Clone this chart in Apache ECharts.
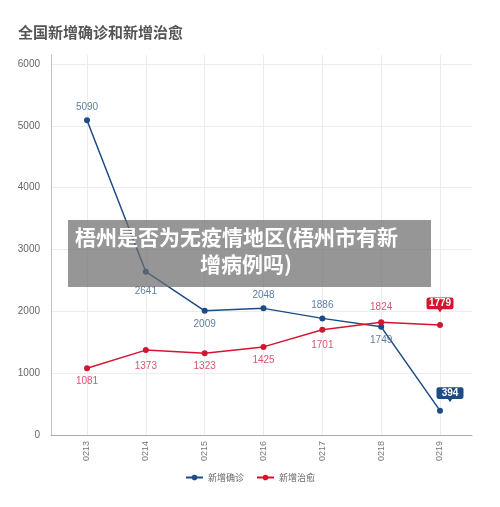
<!DOCTYPE html>
<html>
<head>
<meta charset="utf-8">
<script src="https://cdn.jsdelivr.net/npm/echarts@6/dist/echarts.min.js"></script>
<style>
html,body{margin:0;padding:0;background:#fff;}
#c{width:500px;height:507px;}
</style>
</head>
<body>
<div id="c"></div>
<script>
var categories = ['0213','0214','0215','0216','0217','0218','0219'];
var confirmed = [5090, 2641, 2009, 2048, 1886, 1749, 394];
var cured = [1081, 1373, 1323, 1425, 1701, 1824, 1779];
var seriesNames = ['新增确诊', '新增治愈'];
var confirmedLabelPos = ['top','bottom','bottom','top','top','bottom','top'];
var curedLabelPos = ['bottom','bottom','bottom','bottom','bottom','top','top'];
var titleText = '全国新增确诊和新增治愈';
var overlayLine1 = '梧州是否为无疫情地区(梧州市有新';
var overlayLine2 = '增病例吗)';

var FONT = '"Noto Sans CJK SC","Noto Sans",sans-serif';
var NUMFONT = '"Liberation Sans","Noto Sans CJK SC",sans-serif';
var BLUE = '#1d4b85';
var RED = '#d5152f';
var calloutPath = 'path://M2,0 H24 Q26,0 26,2 V9 Q26,11 24,11 H15 L13,14 L11,11 H2 Q0,11 0,9 V2 Q0,0 2,0 Z';

function buildData(values, posArr, labelColor, extraDist) {
  return values.map(function (v, i) {
    var item = { value: v, label: { position: posArr[i], color: labelColor } };
    if (extraDist && extraDist[i]) item.label.distance = extraDist[i];
    if (i === values.length - 1) item.label.show = false;
    return item;
  });
}

var last = categories.length - 1;

var chart = echarts.init(document.getElementById('c'), null, { renderer: 'canvas' });
chart.setOption({
  backgroundColor: '#fff',
  animation: false,
  textStyle: { fontFamily: FONT },
  title: {
    text: titleText, left: 13, top: 20,
    textStyle: { fontSize: 15, fontWeight: 'bold', color: '#555', fontFamily: FONT }
  },
  legend: {
    data: seriesNames, bottom: 20, left: 'center',
    itemWidth: 17, itemHeight: 7, itemGap: 12,
    textStyle: { fontSize: 9, color: '#666', fontFamily: FONT }
  },
  grid: [
    { left: 51, right: 28, top: 55, bottom: 72 },
    { left: 51, right: 28, top: 64, bottom: 72 },
    { left: 87, right: 60, top: 55, bottom: 72 },
    { left: 87, right: 60, top: 64, bottom: 72 }
  ],
  xAxis: [
    { gridIndex: 0, type: 'value', min: 0, max: 1,
      axisLine: { show: true, lineStyle: { color: '#aaa', width: 1 } },
      axisTick: { show: false }, axisLabel: { show: false }, splitLine: { show: false } },
    { gridIndex: 1, type: 'value', min: 0, max: 1, show: false },
    { gridIndex: 2, type: 'category', data: categories, boundaryGap: false,
      axisLine: { show: false }, axisTick: { show: false },
      axisLabel: { rotate: 90, margin: 6, fontSize: 9, color: '#777', fontFamily: NUMFONT },
      splitLine: { show: true, lineStyle: { color: '#ececec', width: 1 } } },
    { gridIndex: 3, type: 'category', data: categories, boundaryGap: false, show: false }
  ],
  yAxis: [
    { gridIndex: 0, type: 'value', min: 0, max: 1,
      axisLine: { show: true, lineStyle: { color: '#c2c2c2', width: 1 } },
      axisTick: { show: false }, axisLabel: { show: false }, splitLine: { show: false } },
    { gridIndex: 1, type: 'value', min: 0, max: 6000, interval: 1000,
      axisLine: { show: false }, axisTick: { show: false },
      axisLabel: { margin: 11, fontSize: 10, color: '#666', fontFamily: NUMFONT,
        formatter: function (v) { return String(v); } },
      splitLine: { show: true, lineStyle: { color: '#ececec', width: 1 } } },
    { gridIndex: 2, type: 'value', min: 0, max: 1, show: false },
    { gridIndex: 3, type: 'value', min: 0, max: 6000, interval: 1000, show: false }
  ],
  series: [
    {
      name: seriesNames[0], type: 'line', xAxisIndex: 3, yAxisIndex: 3,
      data: buildData(confirmed, confirmedLabelPos, '#5f7fa6', [0, 12, 0, 0, 0, 0, 0]),
      symbol: 'circle', symbolSize: 6,
      itemStyle: { color: BLUE }, lineStyle: { color: BLUE, width: 1.5 },
      label: { show: true, fontSize: 10, fontFamily: NUMFONT },
      markPoint: {
        symbol: calloutPath, symbolSize: [27, 15], symbolKeepAspect: false,
        symbolOffset: [10, -16],
        itemStyle: { color: BLUE },
        label: { show: true, color: '#fff', fontSize: 10, fontWeight: 'bold', fontFamily: NUMFONT, offset: [0, -1.5] },
        data: [{ coord: [last, confirmed[last]], value: confirmed[last] }]
      },
      z: 3
    },
    {
      name: seriesNames[1], type: 'line', xAxisIndex: 3, yAxisIndex: 3,
      data: buildData(cured, curedLabelPos, '#d9566f', [0, 8, 0, 0, 7, 7, 0]),
      symbol: 'circle', symbolSize: 6,
      itemStyle: { color: RED }, lineStyle: { color: RED, width: 1.5 },
      label: { show: true, fontSize: 10, fontFamily: NUMFONT },
      markPoint: {
        symbol: calloutPath, symbolSize: [27, 15], symbolKeepAspect: false,
        symbolOffset: [0, -20],
        itemStyle: { color: RED },
        label: { show: true, color: '#fff', fontSize: 10, fontWeight: 'bold', fontFamily: NUMFONT, offset: [0, -1.5] },
        data: [{ coord: [last, cured[last]], value: cured[last] }]
      },
      z: 3
    }
  ],
  graphic: [
    { type: 'rect', left: 68, top: 220, z: 100,
      shape: { width: 363, height: 67 },
      style: { fill: 'rgba(110,110,110,0.72)' } },
    { type: 'text', left: 75, top: 227, z: 101,
      style: { text: overlayLine1, fill: '#fff', font: 'bold 21px ' + FONT } },
    { type: 'text', left: 200, top: 254, z: 101,
      style: { text: overlayLine2, fill: '#fff', font: 'bold 21px ' + FONT } }
  ]
});
</script>
</body>
</html>
